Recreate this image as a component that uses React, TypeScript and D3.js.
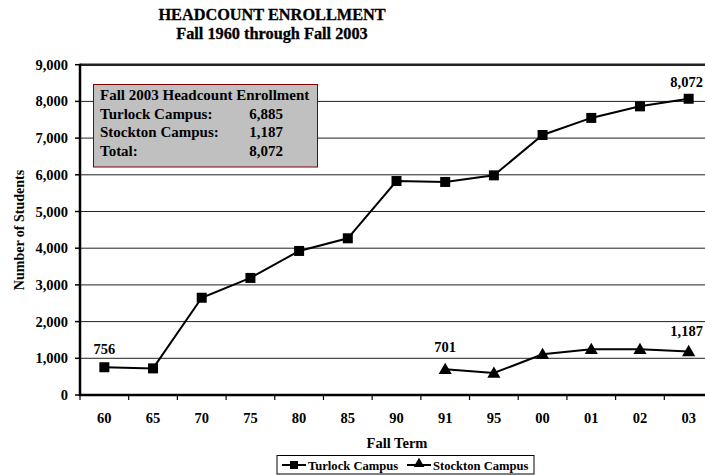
import { line, scaleBand, scaleLinear, symbol, symbolSquare, symbolTriangle } from 'd3'

const terms = ['60', '65', '70', '75', '80', '85', '90', '91', '95', '00', '01', '02', '03']
const turlock = [756, 725, 2650, 3190, 3925, 4270, 5830, 5805, 5985, 7085, 7550, 7865, 8072]
const stocktonTerms = ['91', '95', '00', '01', '02', '03']
const stockton = [701, 600, 1110, 1245, 1245, 1187]
const yTicks = [0, 1000, 2000, 3000, 4000, 5000, 6000, 7000, 8000, 9000]
const boxRows = [
	['Turlock Campus:', '6,885'],
	['Stockton Campus:', '1,187'],
	['Total:', '8,072'],
]

const W = 705
const H = 475
const font = '"Liberation Serif", "Times New Roman", serif'

export default function App() {
	const x = scaleBand().domain(terms).range([80, 713])
	const y = scaleLinear().domain([0, 9000]).range([395, 64.7])
	const cx = (t: string) => x(t)! + x.bandwidth() / 2

	const tPts = terms.map((t, i) => [cx(t), y(turlock[i])] as [number, number])
	const sPts = stocktonTerms.map((t, i) => [cx(t), y(stockton[i])] as [number, number])
	const path = line()
	const sq = symbol().type(symbolSquare).size(100)()!
	const tri = symbol().type(symbolTriangle).size(75)()!

	return (
		<svg width={W} height={H} style={{ position: 'absolute', left: 0, top: 0, background: '#fff' }} fontFamily={font} fontWeight='bold'>
			{/* title */}
			<g stroke='#000' strokeWidth={0.3}>
				<text x={272} y={20} textAnchor='middle' fontSize={16.3}>HEADCOUNT ENROLLMENT</text>
				<text x={272} y={39} textAnchor='middle' fontSize={16.3}>Fall 1960 through Fall 2003</text>
			</g>

			{/* grid */}
			{yTicks.map((t) => (
				<g key={t}>
					<line x1={80} x2={W} y1={y(t)} y2={y(t)} stroke='#222' strokeWidth={t === 9000 ? 2.5 : 1} />
					<line x1={75} x2={80} y1={y(t)} y2={y(t)} stroke='#000' strokeWidth={1.5} />
					<text x={68} y={y(t)} dy='0.35em' textAnchor='end' fontSize={14.5}>
						{t.toLocaleString('en-US')}
					</text>
				</g>
			))}

			{/* axes */}
			<line x1={80} x2={80} y1={y(9000) - 1} y2={y(0) + 1} stroke='#000' strokeWidth={2.5} />
			<line x1={79} x2={W} y1={y(0)} y2={y(0)} stroke='#000' strokeWidth={2.5} />
			{terms.map((t) => (
				<g key={t}>
					<line x1={x(t)!} x2={x(t)!} y1={y(0)} y2={y(0) + 5} stroke='#000' strokeWidth={1.2} />
					<text x={cx(t)} y={y(0) + 23} dy='0.35em' textAnchor='middle' fontSize={14.5}>{t}</text>
				</g>
			))}

			<text x={397} y={447.5} textAnchor='middle' fontSize={14.5}>Fall Term</text>
			<text transform={`translate(24,230) rotate(-90)`} textAnchor='middle' fontSize={14}>Number of Students</text>

			{/* series */}
			<path d={path(tPts)!} fill='none' stroke='#000' strokeWidth={2} />
			{tPts.map((p, i) => <path key={i} d={sq} transform={`translate(${p[0]},${p[1]})`} fill='#000' />)}
			<path d={path(sPts)!} fill='none' stroke='#000' strokeWidth={2} />
			{sPts.map((p, i) => <path key={i} d={tri} transform={`translate(${p[0]},${p[1] + 1})`} fill='#000' />)}

			{/* data labels */}
			<text x={tPts[0][0]} y={tPts[0][1] - 13} textAnchor='middle' fontSize={14.5}>756</text>
			<text x={tPts[12][0] - 2} y={tPts[12][1] - 12} textAnchor='middle' fontSize={14.5}>8,072</text>
			<text x={sPts[0][0]} y={sPts[0][1] - 17} textAnchor='middle' fontSize={14.5}>701</text>
			<text x={sPts[5][0] - 2} y={sPts[5][1] - 15} textAnchor='middle' fontSize={14.5}>1,187</text>

			{/* info box */}
			<rect x={93.5} y={84.5} width={224} height={82.5} fill='#c0c0c0' stroke='#800000' strokeWidth={1} />
			<text x={100} y={100} fontSize={15}>Fall 2003 Headcount Enrollment</text>
			{boxRows.map((r, i) => (
				<g key={i}>
					<text x={100} y={118.5 + i * 18.5} fontSize={15}>{r[0]}</text>
					<text x={283} y={118.5 + i * 18.5} textAnchor='end' fontSize={15}>{r[1]}</text>
				</g>
			))}

			{/* legend */}
			<rect x={277} y={455.5} width={257} height={18.5} fill='#fff' stroke='#000' strokeWidth={1} />
			<line x1={282} x2={306} y1={465} y2={465} stroke='#000' strokeWidth={2} />
			<path d={symbol().type(symbolSquare).size(64)()!} transform='translate(294,465)' fill='#000' />
			<text x={308} y={469.5} fontSize={12.6}>Turlock Campus</text>
			<line x1={407} x2={431} y1={465} y2={465} stroke='#000' strokeWidth={2} />
			<path d={symbol().type(symbolTriangle).size(50)()!} transform='translate(419,464)' fill='#000' />
			<text x={433} y={469.5} fontSize={12.6}>Stockton Campus</text>
		</svg>
	)
}
